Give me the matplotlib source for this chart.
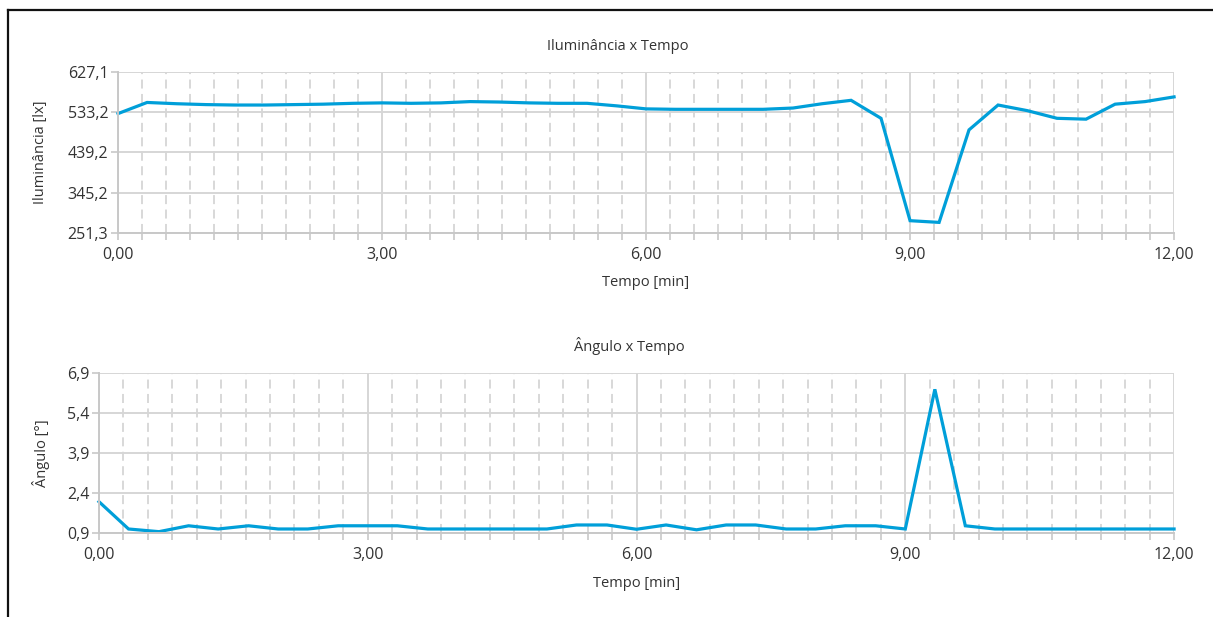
import matplotlib
matplotlib.use("Agg")
import matplotlib.pyplot as plt
import numpy as np
from matplotlib.lines import Line2D

plt.rcParams['font.family'] = ['Open Sans', 'DejaVu Sans']

# time axis (min), one reading every 20 s
tempo = [0.00, 0.33, 0.67, 1.00, 1.33, 1.67, 2.00, 2.33, 2.67, 3.00,
         3.33, 3.67, 4.00, 4.33, 4.67, 5.00, 5.33, 5.67, 6.00, 6.33,
         6.67, 7.00, 7.33, 7.67, 8.00, 8.33, 8.67, 9.00, 9.33, 9.67,
         10.00, 10.33, 10.67, 11.00, 11.33, 11.67, 12.00]

iluminancia = [530, 556, 553, 551, 550, 550, 551, 552, 554, 555,
               554, 555, 558, 557, 555, 554, 554, 548, 541, 540,
               540, 540, 540, 543, 553, 561, 519, 280, 276, 492,
               550, 537, 519, 517, 552, 558, 569]

angulo = [2.08, 1.06, 0.96, 1.18, 1.06, 1.18, 1.06, 1.06, 1.18, 1.18,
          1.18, 1.06, 1.06, 1.06, 1.06, 1.06, 1.21, 1.21, 1.05, 1.21,
          1.03, 1.21, 1.21, 1.06, 1.06, 1.18, 1.18, 1.06, 6.28, 1.18,
          1.06, 1.06, 1.06, 1.06, 1.06, 1.06, 1.06]

x_ticks = [0, 3, 6, 9, 12]
x_labels = ['0,00', '3,00', '6,00', '9,00', '12,00']
ilu_ticks = [251.3, 345.2, 439.2, 533.2, 627.1]
ilu_labels = ['251,3', '345,2', '439,2', '533,2', '627,1']
ang_ticks = [0.9, 2.4, 3.9, 5.4, 6.9]
ang_labels = ['0,9', '2,4', '3,9', '5,4', '6,9']

LINE = '#009fd9'
GRID = '#d6d6d6'
TEXT = '#333333'

fig = plt.figure(figsize=(12.13, 6.17), dpi=100)

ax1 = fig.add_axes([0.0973, 0.6224, 0.8706, 0.2609])
ax2 = fig.add_axes([0.0816, 0.1357, 0.8863, 0.2602])


def style(ax, yticks, ylabels):
    ax.set_xlim(0, 12)
    ax.set_ylim(yticks[0], yticks[-1])
    ax.set_xticks(x_ticks)
    ax.set_xticklabels(x_labels)
    ax.set_xticks(np.linspace(0, 12, 45), minor=True)
    ax.set_yticks(yticks)
    ax.set_yticklabels(ylabels)
    ax.grid(True, which='major', color=GRID, lw=1.4)
    ax.grid(True, which='minor', axis='x', color=GRID, lw=1.3,
            linestyle=(0, (5, 3)))
    for s in ['top', 'right']:
        ax.spines[s].set_visible(False)
    for s in ['left', 'bottom']:
        ax.spines[s].set_color('#c8c8c8')
        ax.spines[s].set_linewidth(1.4)
    ax.tick_params(which='both', direction='out', color='#c8c8c8',
                   length=5, width=1.2, labelcolor=TEXT, labelsize=11.5)
    ax.tick_params(axis='x', which='both', pad=5)
    ax.tick_params(axis='y', pad=2)
    ax.set_axisbelow(True)
    ax.set_xlabel('Tempo [min]', color=TEXT, fontsize=10.5, labelpad=9)


ax1.plot(tempo, iluminancia, color=LINE, lw=2.3, clip_on=False,
         solid_joinstyle='miter')
style(ax1, ilu_ticks, ilu_labels)
ax1.set_ylabel('Iluminância [lx]', color=TEXT, fontsize=10.5)

ax2.plot(tempo, angulo, color=LINE, lw=2.3, clip_on=False,
         solid_joinstyle='miter')
style(ax2, ang_ticks, ang_labels)
ax2.set_ylabel('Ângulo [°]', color=TEXT, fontsize=10.5)
ax1.yaxis.set_label_coords(-0.066, 0.5)
ax2.yaxis.set_label_coords(-0.046, 0.5)

fig.text(618 / 1213, 1 - 46 / 617, 'Iluminância x Tempo', ha='center',
         va='center', color=TEXT, fontsize=10.5)
fig.text(629 / 1213, 1 - 346 / 617, 'Ângulo x Tempo', ha='center',
         va='center', color=TEXT, fontsize=10.5)

# page border (left and top edges only)
fig.add_artist(Line2D([8 / 1213, 8 / 1213], [0, 1 - 10 / 617],
                      color='#111111', lw=1.6, transform=fig.transFigure))
fig.add_artist(Line2D([8 / 1213, 1], [1 - 10 / 617, 1 - 10 / 617],
                      color='#111111', lw=1.6, transform=fig.transFigure))

fig.savefig('out.png', dpi=100)
